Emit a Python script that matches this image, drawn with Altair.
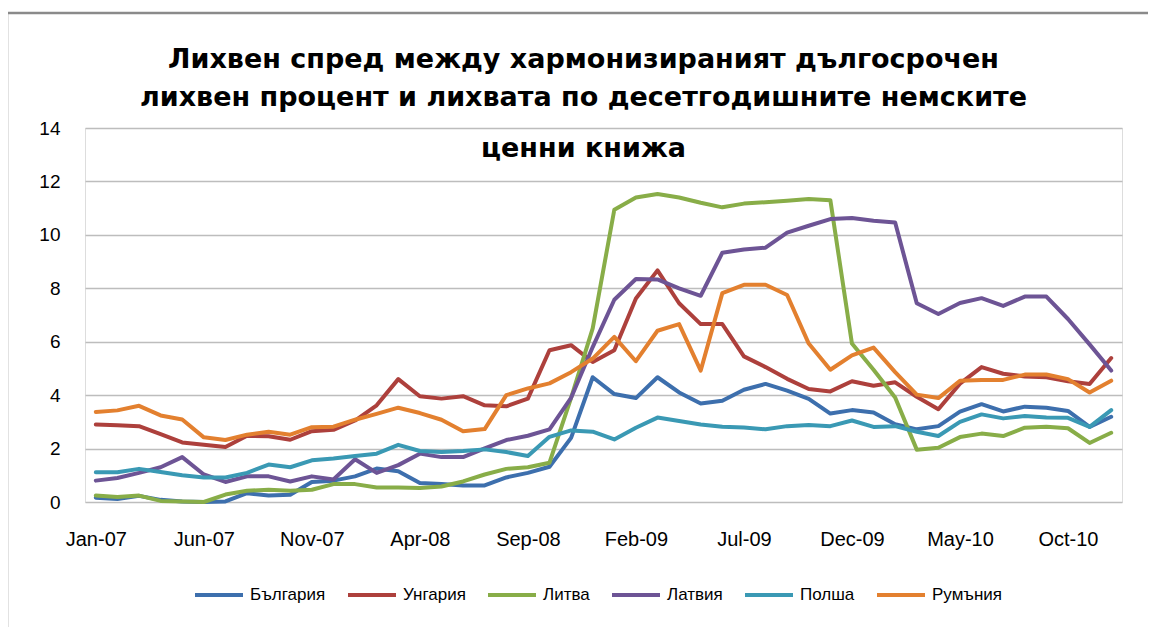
import altair as alt
import pandas as pd

months = [
    "Jan-07", "Feb-07", "Mar-07", "Apr-07", "May-07", "Jun-07", "Jul-07", "Aug-07", "Sep-07", "Oct-07", "Nov-07", "Dec-07",
    "Jan-08", "Feb-08", "Mar-08", "Apr-08", "May-08", "Jun-08", "Jul-08", "Aug-08", "Sep-08", "Oct-08", "Nov-08", "Dec-08",
    "Jan-09", "Feb-09", "Mar-09", "Apr-09", "May-09", "Jun-09", "Jul-09", "Aug-09", "Sep-09", "Oct-09", "Nov-09", "Dec-09",
    "Jan-10", "Feb-10", "Mar-10", "Apr-10", "May-10", "Jun-10", "Jul-10", "Aug-10", "Sep-10", "Oct-10", "Nov-10", "Dec-10",
]
tick_labels = ["Jan-07", "Jun-07", "Nov-07", "Apr-08", "Sep-08", "Feb-09", "Jul-09", "Dec-09", "May-10", "Oct-10"]
y_ticks = [0, 2, 4, 6, 8, 10, 12, 14]

series_names = ["България", "Унгария", "Литва", "Латвия", "Полша", "Румъния"]
colors = ["#3D6FAD", "#AD403C", "#88AD48", "#6D5495", "#3A99B4", "#E3802F"]

bulgaria = [0.16, 0.11, 0.23, 0.08, 0.02, 0.0, 0.02, 0.33, 0.24, 0.27, 0.75, 0.8,
            0.96, 1.25, 1.15, 0.71, 0.67, 0.62, 0.62, 0.92, 1.09, 1.32, 2.4, 4.67,
            4.04, 3.89, 4.67, 4.1, 3.69, 3.79, 4.2, 4.42, 4.17, 3.86, 3.31, 3.44,
            3.35, 2.91, 2.72, 2.84, 3.38, 3.66, 3.39, 3.57, 3.53, 3.41, 2.81, 3.19]
hungary = [2.9, 2.87, 2.84, 2.54, 2.23, 2.14, 2.06, 2.48, 2.46, 2.33, 2.65, 2.7,
           3.05, 3.62, 4.6, 3.96, 3.87, 3.96, 3.62, 3.58, 3.87, 5.68, 5.87, 5.24,
           5.68, 7.62, 8.67, 7.44, 6.66, 6.66, 5.45, 5.05, 4.61, 4.23, 4.14, 4.52,
           4.35, 4.48, 3.94, 3.47, 4.43, 5.05, 4.8, 4.7, 4.67, 4.52, 4.42, 5.39]
lithuania = [0.24, 0.19, 0.24, 0.04, 0.02, 0.0, 0.28, 0.42, 0.46, 0.42, 0.46, 0.67,
             0.67, 0.54, 0.54, 0.52, 0.58, 0.77, 1.03, 1.24, 1.3, 1.47, 3.9, 6.5,
             10.94, 11.4, 11.53, 11.4, 11.2, 11.03, 11.17, 11.22, 11.28, 11.34, 11.3, 5.93,
             4.95, 3.91, 1.96, 2.03, 2.43, 2.56, 2.47, 2.78, 2.82, 2.76, 2.21, 2.59]
latvia = [0.8, 0.9, 1.09, 1.3, 1.68, 1.03, 0.75, 0.96, 0.96, 0.77, 0.96, 0.84,
          1.6, 1.09, 1.38, 1.81, 1.68, 1.68, 2.01, 2.32, 2.48, 2.72, 3.9, 5.8,
          7.57, 8.35, 8.33, 8.0, 7.72, 9.33, 9.45, 9.52, 10.08, 10.34, 10.59, 10.63,
          10.53, 10.46, 7.44, 7.04, 7.45, 7.63, 7.34, 7.69, 7.69, 6.85, 5.9, 4.92]
poland = [1.11, 1.11, 1.24, 1.12, 1.0, 0.92, 0.92, 1.09, 1.4, 1.3, 1.56, 1.63,
          1.72, 1.81, 2.14, 1.91, 1.87, 1.91, 1.97, 1.87, 1.72, 2.44, 2.68, 2.63,
          2.34, 2.78, 3.16, 3.03, 2.9, 2.82, 2.79, 2.72, 2.84, 2.88, 2.84, 3.05,
          2.81, 2.84, 2.63, 2.47, 3.0, 3.28, 3.13, 3.22, 3.16, 3.15, 2.81, 3.44]
romania = [3.37, 3.43, 3.6, 3.24, 3.09, 2.42, 2.32, 2.52, 2.63, 2.52, 2.8, 2.82,
           3.08, 3.3, 3.53, 3.33, 3.08, 2.65, 2.73, 4.0, 4.25, 4.44, 4.86, 5.37,
           6.18, 5.27, 6.41, 6.66, 4.92, 7.82, 8.13, 8.13, 7.75, 5.93, 4.95, 5.49,
           5.78, 4.86, 4.02, 3.89, 4.54, 4.57, 4.57, 4.77, 4.77, 4.6, 4.1, 4.54]

all_series = [bulgaria, hungary, lithuania, latvia, poland, romania]

rows = []
for k, (name, vals) in enumerate(zip(series_names, all_series)):
    for i, (m, v) in enumerate(zip(months, vals)):
        rows.append({"month": m, "idx": i, "country": name, "order": k, "value": v})
df = pd.DataFrame(rows)

title_lines = ["Лихвен спред между хармонизираният дългосрочен",
               "лихвен процент и лихвата по десетгодишните немските"]
title_last = "ценни книжа"

W, H = 1037, 374

lines = alt.Chart(df).mark_line(strokeWidth=4, strokeCap="round", strokeJoin="round").encode(
    x=alt.X("month:O", sort=months,
            scale=alt.Scale(type="point", padding=0.5),
            axis=alt.Axis(values=tick_labels, labelAngle=0, ticks=False, domain=False, grid=False,
                          labelPadding=27, labelFontSize=20, labelFont="Liberation Sans",
                          labelColor="#000000", title=None)),
    y=alt.Y("value:Q", scale=alt.Scale(domain=[0, 14], nice=False),
            axis=alt.Axis(values=y_ticks, ticks=False, domain=False, grid=True,
                          gridColor="#BDBDBD", gridWidth=1.4,
                          labelPadding=25, labelFontSize=19, labelFont="Liberation Sans",
                          labelColor="#000000", title=None)),
    color=alt.Color("country:N", sort=series_names,
                    scale=alt.Scale(domain=series_names, range=colors),
                    legend=alt.Legend(orient="none", legendX=108, legendY=441, direction="horizontal",
                                      title=None, symbolType="stroke", symbolSize=2304,
                                      symbolStrokeWidth=4, labelFontSize=17, labelFont="Liberation Sans",
                                      labelColor="#000000", labelOffset=5, columnPadding=14,
                                      columns=6)),
    order=alt.Order("idx:Q"),
    detail="order:N",
)

frame = alt.Chart(pd.DataFrame({"a": [0]})).mark_rect(
    filled=False, stroke="#8A8A8A", strokeWidth=2.5
).encode(
    x=alt.value(-78), x2=alt.value(1120), y=alt.value(-115), y2=alt.value(560)
)

chart = alt.layer(frame, lines).properties(
    width=W, height=H,
    autosize=alt.AutoSizeParams(type="none"),
    padding={"left": 77, "top": 120, "right": 26, "bottom": 125},
    title=alt.TitleParams(text=title_lines, subtitle=title_last, anchor="middle", dx=-20,
                          offset=-151, font="DejaVu Sans", fontSize=27, fontWeight="bold",
                          color="#000000", lineHeight=38,
                          subtitleFont="DejaVu Sans", subtitleFontSize=27, subtitleFontWeight="bold",
                          subtitleColor="#000000", subtitlePadding=24),
).configure_view(stroke=None).configure(background="white")

chart.save("out.html", embed_options={"renderer": "svg", "actions": False})
